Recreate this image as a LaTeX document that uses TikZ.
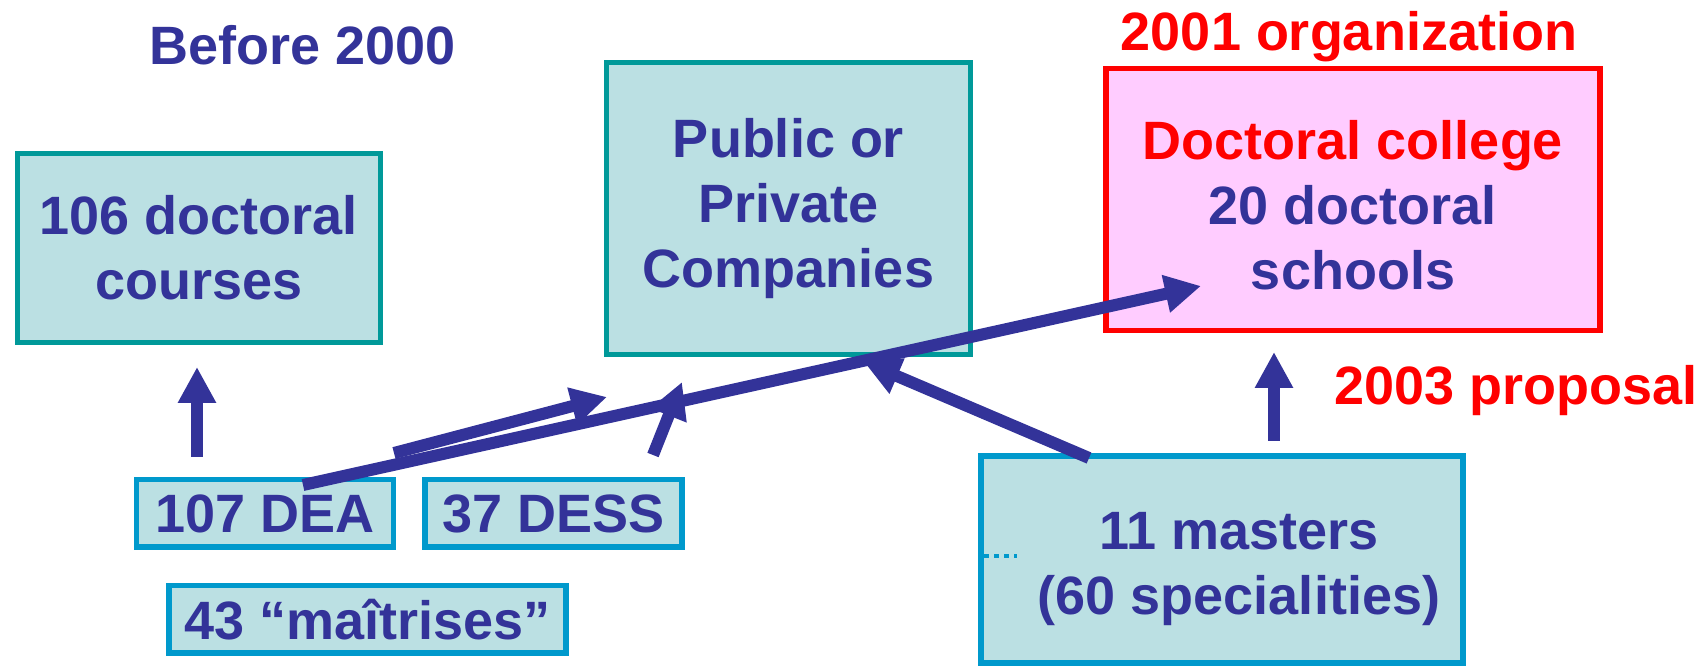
\documentclass[tikz,border=0pt]{standalone}
\usepackage{fontspec}
\setmainfont{Liberation Sans}
\usetikzlibrary{arrows.meta}
\definecolor{navy}{HTML}{333399}
\definecolor{tealb}{HTML}{009999}
\definecolor{cyanb}{HTML}{0099CC}
\definecolor{pale}{HTML}{BBE0E3}
\definecolor{pinkf}{HTML}{FFCCFF}
\definecolor{redt}{HTML}{FF0000}
\tikzset{
 txt/.style={font=\fontsize{27pt}{32.5pt}\selectfont\bfseries, text=navy, align=center},
 bigbox/.style={txt, draw=tealb, fill=pale, line width=2.5pt, inner sep=0pt},
 smallbox/.style={txt, draw=cyanb, fill=pale, line width=2.8pt, inner sep=0pt},
 redbox/.style={txt, draw=redt, fill=pinkf, line width=2.8pt, inner sep=0pt},
 arr/.style={draw=navy, line width=6pt, -{Triangle[length=18pt,width=18pt]}},
}
\begin{document}
\begin{tikzpicture}[x=0.5pt,y=-0.5pt]
\useasboundingbox (0,0) rectangle (1704,667);
% titles
\node[txt, anchor=base] (before) at (303,65) {Before 2000};
\node[txt, text=redt, anchor=base] (org) at (1349,51) {2001 organization};
\node[txt, text=redt, anchor=base] (prop) at (1516,405) {2003 proposal};
% boxes
\node[bigbox, minimum width=181.5pt, minimum height=94.5pt] (courses) at (199,248) {106 doctoral\\courses};
\node[bigbox, minimum width=182pt, minimum height=146pt] (pub) at (788.5,208.5) {Public or\\Private\\Companies};
\node[redbox, minimum width=247pt, minimum height=131pt] (college) at (1353,199.5) {};
\node[txt] (collegetext) at (1353,205) {\textcolor{redt}{Doctoral college}\\20 doctoral\\schools};
\node[smallbox, minimum width=128.5pt, minimum height=33.8pt] (dea) at (265,513.5) {107 DEA};
\node[smallbox, minimum width=128.5pt, minimum height=33.8pt] (dess) at (553.5,513.5) {37 DESS};
\node[smallbox, minimum width=198.5pt, minimum height=33.8pt] (mait) at (367.5,619.5) {43 “maîtrises”};
\node[smallbox, minimum width=241pt, minimum height=103.5pt] (masters) at (1222,559.5) {};
\node[txt, anchor=center] (masterstext) at (1239,569) {11 masters\\(60 specialities)};
\draw[cyanb, line width=2pt, dash pattern=on 2.5pt off 2.5pt] (984,556) -- (1017,556);
% arrow end points
\coordinate (a1s) at (197,457);
\coordinate (a1e) at (197,367);
\coordinate (a2s) at (303,485);
\coordinate (a2e) at (1201,286);
\coordinate (a3s) at (394,453);
\coordinate (a3e) at (607,397);
\coordinate (a4s) at (653,455);
\coordinate (a4e) at (682,382);
\coordinate (a5s) at (1089,458);
\coordinate (a5e) at (864,362);
\coordinate (a6s) at (1274,441);
\coordinate (a6e) at (1274,352);
\draw[arr] (a1s) -- (a1e);
\draw[arr] (a3s) -- (a3e);
\draw[arr] (a4s) -- (a4e);
\draw[arr] (a2s) -- (a2e);
\draw[arr] (a5s) -- (a5e);
\draw[arr] (a6s) -- (a6e);
\end{tikzpicture}
\end{document}
